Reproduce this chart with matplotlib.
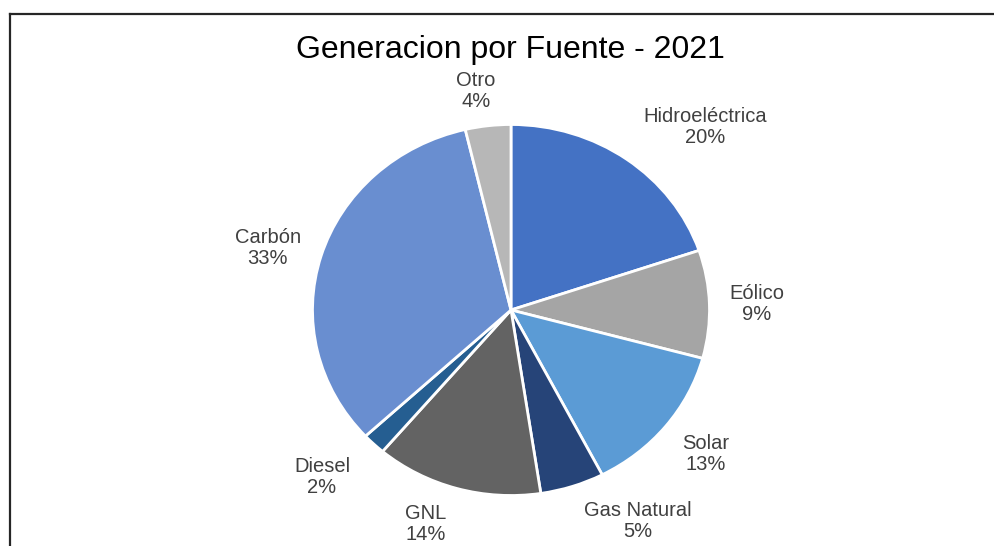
import matplotlib
matplotlib.use("Agg")
import matplotlib.pyplot as plt
from matplotlib.lines import Line2D

plt.rcParams['font.family'] = ['Liberation Sans', 'DejaVu Sans']

# ---- data ----
categories = ["Hidroeléctrica", "Eólico", "Solar", "Gas Natural", "GNL", "Diesel", "Carbón", "Otro"]
shares = [19.8, 9.4, 13.2, 5.2, 13.6, 1.9, 33.2, 3.7]
title = "Generacion por Fuente - 2021"

# ---- style ----
colors = ["#4472C4", "#A5A5A5", "#5B9BD5", "#264478", "#636363", "#255E91", "#698ED0", "#B7B7B7"]
# label block centres (data coords, pie radius = 1)
label_xy = [(0.977, 0.987), (1.239, 0.032), (0.982, -0.776), (0.640, -1.137),
            (-0.428, -1.154), (-0.952, -0.900), (-1.226, 0.334), (-0.176, 1.181)]

W, H = 995, 546
fig = plt.figure(figsize=(W / 100, H / 100), dpi=100)

# pie centre and radii in pixels (image slightly stretched horizontally)
cx, cy = 511, 310
rx, ry = 198.5, 185.5
xl, yl = 2.4, 1.2
ax_w = 2 * xl * rx
ax_h = 2 * yl * ry
left = cx - ax_w / 2
bottom = (H - cy) - ax_h / 2
ax = fig.add_axes([left / W, bottom / H, ax_w / W, ax_h / H])

wedges, _ = ax.pie(shares, colors=colors, startangle=90, counterclock=False,
                   wedgeprops=dict(edgecolor="white", linewidth=2))
ax.set_aspect('auto')
ax.set_xlim(-xl, xl)
ax.set_ylim(-yl, yl)
ax.axis('off')

total = sum(shares)
for name, val, (x, y) in zip(categories, shares, label_xy):
    ax.text(x, y, f"{name}\n{val / total * 100:.0f}%", ha="center", va="center",
            fontsize=14.5, color="#404040", linespacing=1.1)

fig.text(510 / W, 1 - 50 / H, title, ha="center", va="center", fontsize=23, color="#000000")

# outer frame (cropped screenshot of a chart box)
fig.add_artist(Line2D([10 / W, 1.0], [1 - 14 / H, 1 - 14 / H], transform=fig.transFigure,
                      color="#262626", linewidth=1.6))
fig.add_artist(Line2D([10 / W, 10 / W], [0.0, 1 - 14 / H], transform=fig.transFigure,
                      color="#262626", linewidth=1.6))

fig.savefig("out.png", dpi=100, facecolor="white")
